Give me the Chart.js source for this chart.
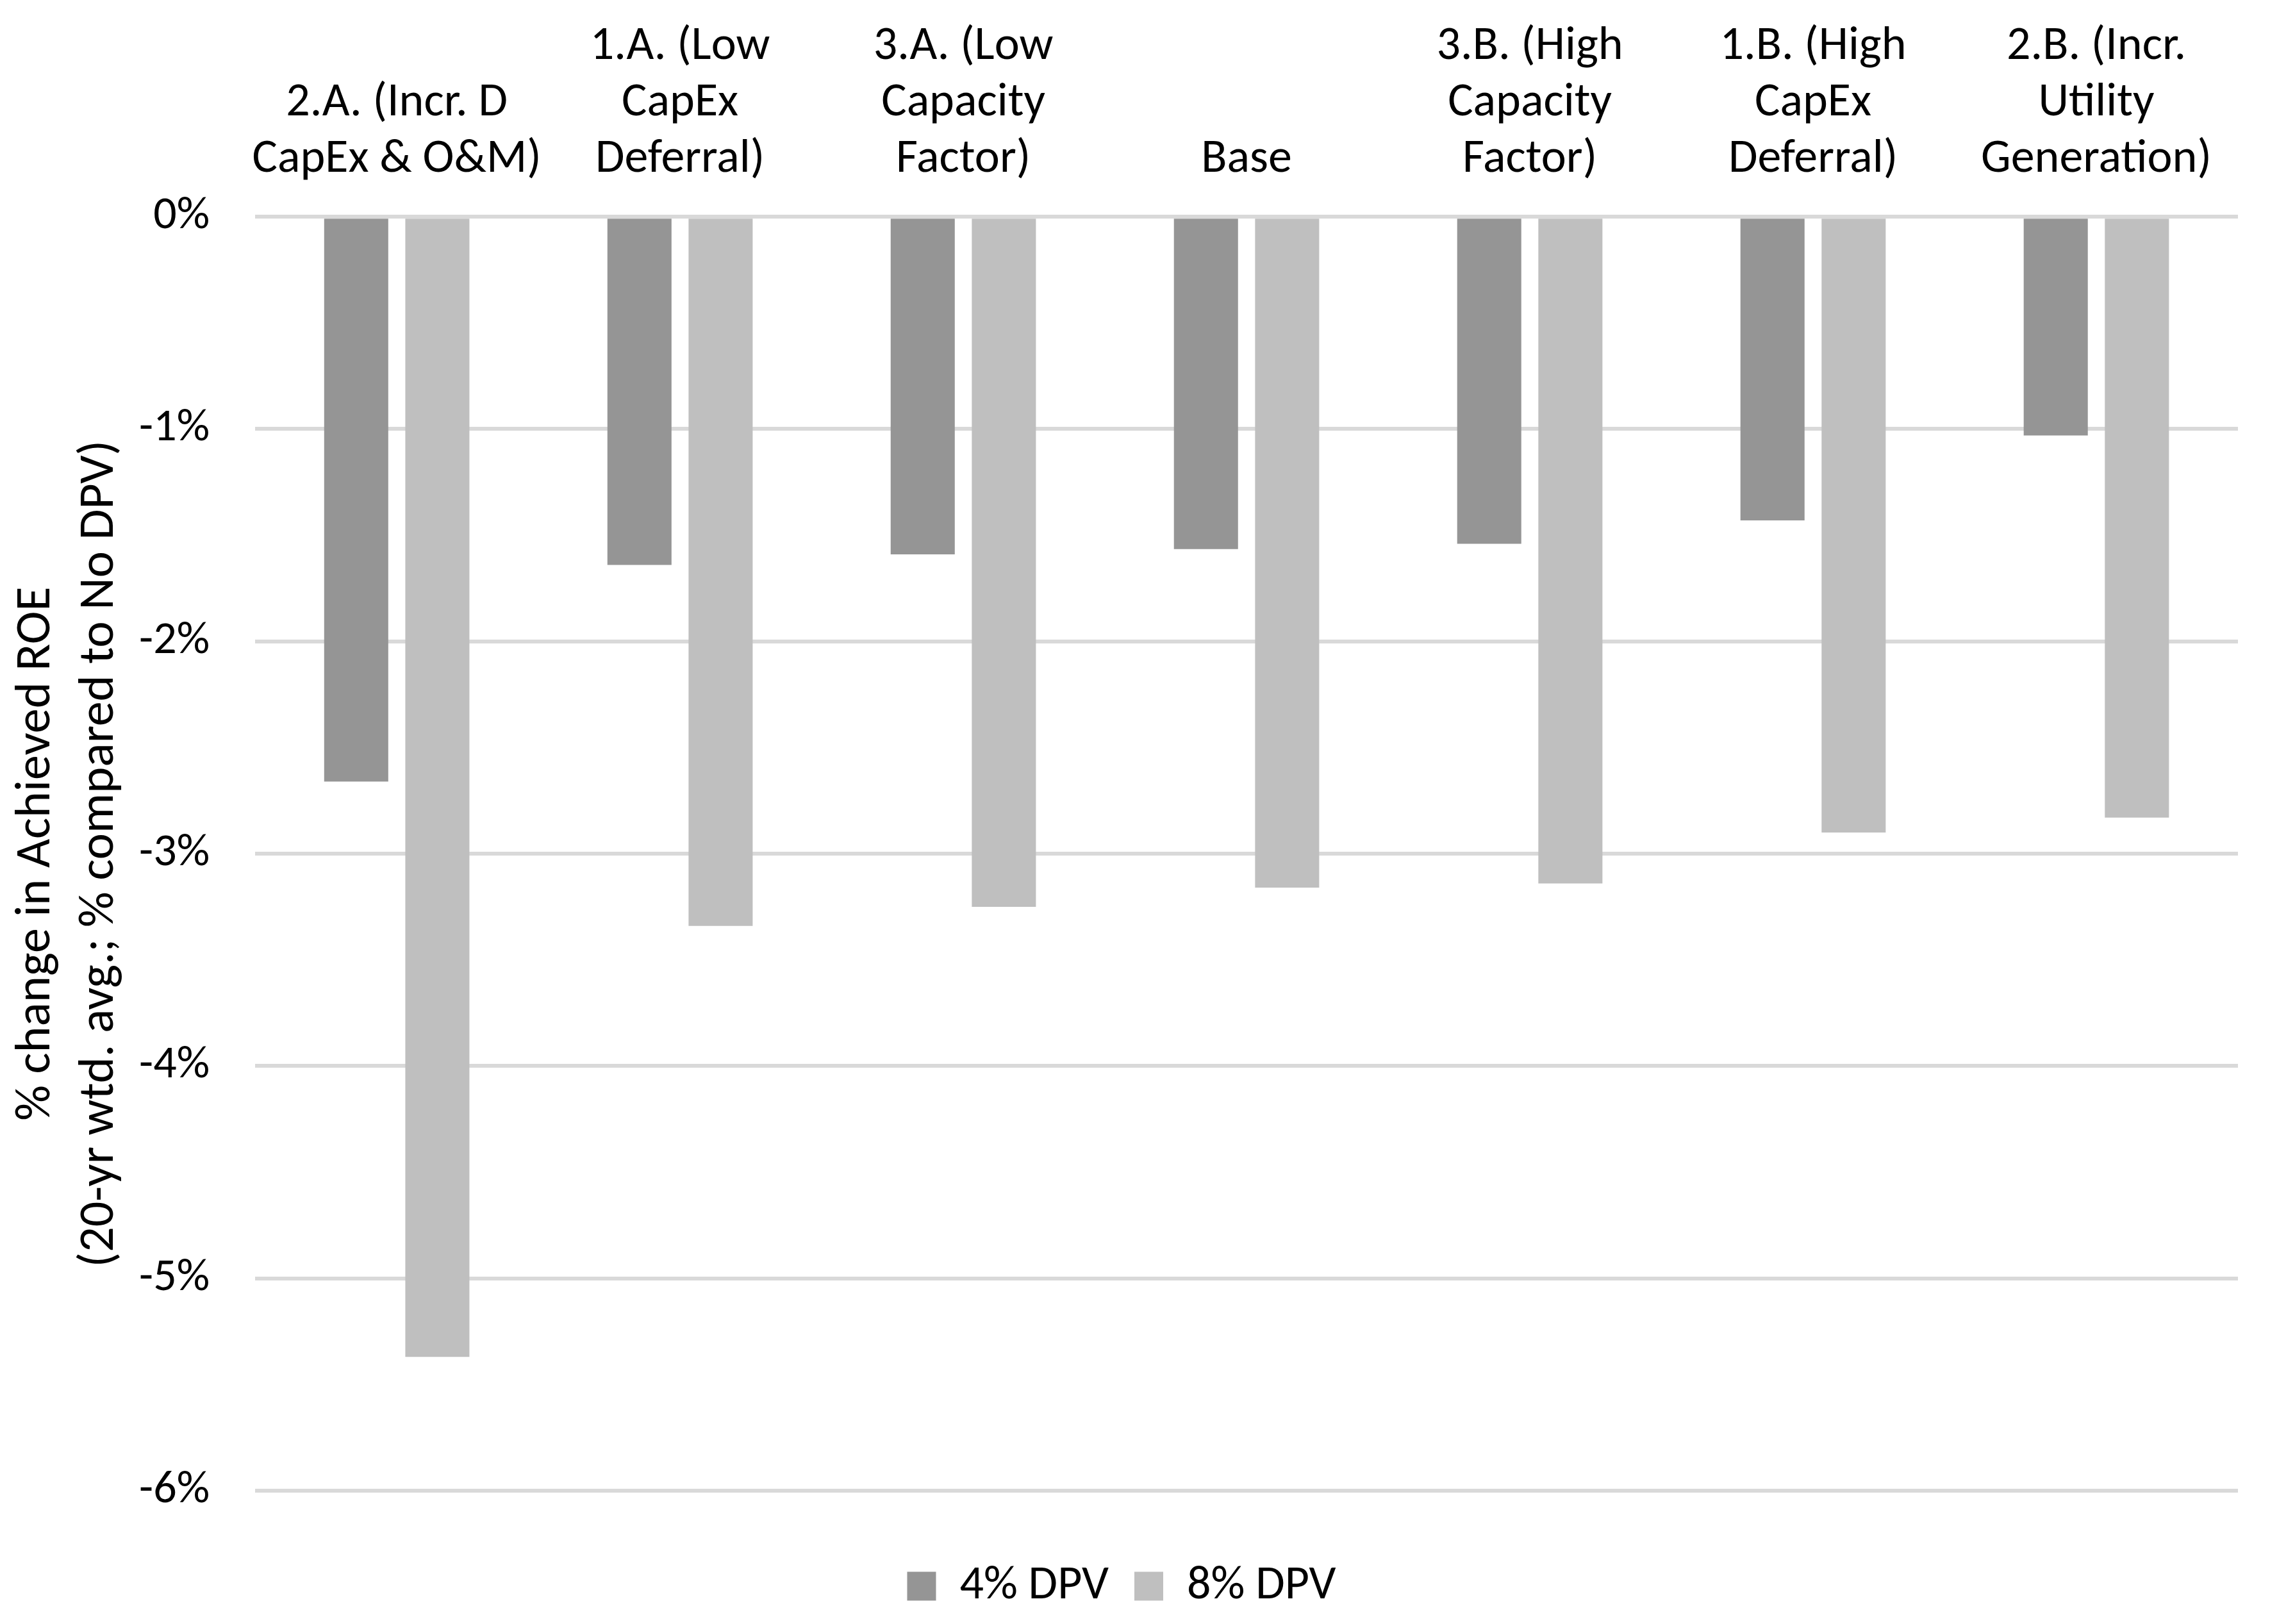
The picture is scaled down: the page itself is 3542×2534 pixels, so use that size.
<!DOCTYPE html>
<html>
<head>
<meta charset="utf-8">
<script src="https://cdn.jsdelivr.net/npm/chart.js@4"></script>
<style>
  body { margin: 0; background: #fff; }
  canvas { display: block; }
</style>
</head>
<body>
<canvas id="chart" width="3542" height="2534"></canvas>
<script>
// scenarios, left to right
const scenarios = [
    ["2.A. (Incr. D", "CapEx & O&M)"],
    ["1.A. (Low", "CapEx", "Deferral)"],
    ["3.A. (Low", "Capacity", "Factor)"],
    ["Base"],
    ["3.B. (High", "Capacity", "Factor)"],
    ["1.B. (High", "CapEx", "Deferral)"],
    ["2.B. (Incr.", "Utility", "Generation)"]
]

// % change in achieved ROE
const dpv4 = [-2.66, -1.64, -1.59, -1.565, -1.54, -1.43, -1.03]
const dpv8 = [-5.37, -3.34, -3.25, -3.16, -3.14, -2.90, -2.83]

const yTicks = [0, -1, -2, -3, -4, -5, -6]

const font = "Carlito, Lato, 'Open Sans', sans-serif"
Chart.defaults.font.family = font
Chart.defaults.font.size = 74
Chart.defaults.color = "#000"

const ctx = document.querySelector("#chart").getContext("2d")

const graph = new Chart(ctx, {
    type: "bar",
    data: {
        labels: scenarios,
        datasets: [
            {
                label: "4% DPV",
                data: dpv4,
                backgroundColor: "#959595",
                categoryPercentage: 0.573,
                barPercentage: 0.79
            },
            {
                label: "8% DPV",
                data: dpv8,
                backgroundColor: "#bfbfbf",
                categoryPercentage: 0.573,
                barPercentage: 0.79
            }
        ]
    },
    options: {
        responsive: false,
        devicePixelRatio: 1,
        animation: false,
        layout: {
            padding: { top: -8, left: 8, right: 50, bottom: 12 }
        },
        plugins: {
            legend: {
                position: "bottom",
                // empty title only used as spacer above the items
                title: {
                    display: true,
                    text: "",
                    font: { size: 10, lineHeight: 1.2 },
                    padding: { top: 30, bottom: 30 }
                },
                labels: {
                    boxWidth: 45,
                    boxHeight: 45,
                    padding: 40,
                    font: { size: 74 }
                }
            },
            tooltip: { enabled: false }
        },
        scales: {
            x: {
                position: "top",
                grid: { display: false },
                border: { display: false },
                ticks: {
                    maxRotation: 0,
                    autoSkip: false,
                    padding: 37,
                    font: { size: 74, lineHeight: 1.19 }
                }
            },
            y: {
                min: -6,
                max: 0,
                afterBuildTicks: axis => {
                    axis.ticks = yTicks.map(v => ({ value: v }))
                },
                grid: {
                    color: "#d9d9d9",
                    lineWidth: 6,
                    drawTicks: false
                },
                border: { display: false },
                ticks: {
                    padding: 71,
                    font: { size: 72 },
                    callback: v => v + "%"
                },
                title: {
                    display: true,
                    text: ["% change in Achieved ROE", "(20-yr wtd. avg.; % compared to No DPV)"],
                    font: { size: 78, lineHeight: 1.27 },
                    padding: { top: 0, bottom: -60 }
                }
            }
        }
    }
})
</script>
</body>
</html>
